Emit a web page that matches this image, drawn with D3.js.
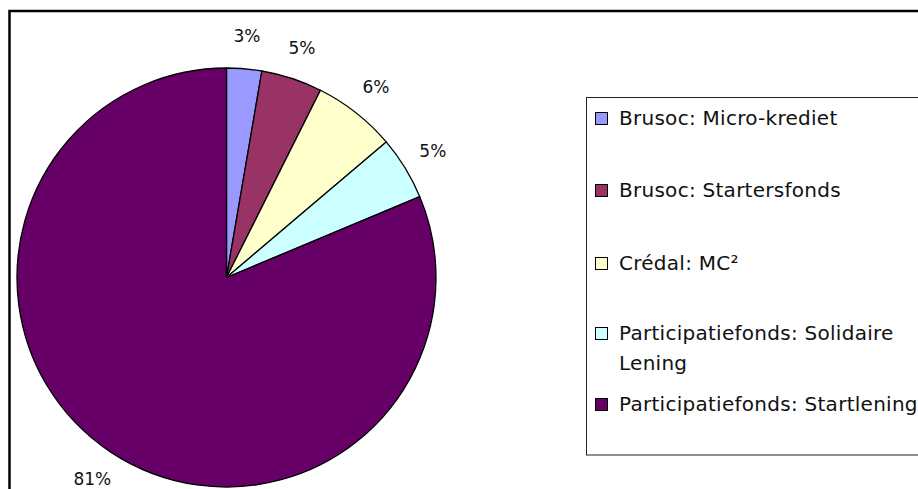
<!DOCTYPE html>
<html lang="nl">
<head>
<meta charset="UTF-8">
<title>pie</title>
<style>
    body { margin: 0; background: #fff; }
    text { font-family: "DejaVu Sans", sans-serif; fill: #111; }
</style>
</head>
<body>
<div id="wrapper"></div>
<script src="https://d3js.org/d3.v7.min.js"></script>
<script>
    // gegevens
    const categories = [
        "Brusoc: Micro-krediet",
        "Brusoc: Startersfonds",
        "Crédal: MC²",
        "Participatiefonds: Solidaire Lening",
        "Participatiefonds: Startlening"
    ];
    const values = [2.7, 4.7, 6.4, 4.9, 81.3];
    const labels = ["3%", "5%", "6%", "5%", "81%"];
    const legendLines = [
        ["Brusoc: Micro-krediet"],
        ["Brusoc: Startersfonds"],
        ["Crédal: MC²"],
        ["Participatiefonds: Solidaire", "Lening"],
        ["Participatiefonds: Startlening"]
    ];
    const colors = ["#9999FF", "#993366", "#FFFFCC", "#CCFFFF", "#660066"];

    const width = 918, height = 489;
    const svg = d3.select('#wrapper').append('svg')
        .attr('width', width)
        .attr('height', height);

    // kader rond de grafiek
    svg.append('rect')
        .attr('x', 9.5).attr('y', 11)
        .attr('width', 1000).attr('height', 600)
        .attr('fill', 'none')
        .attr('stroke', '#000')
        .attr('stroke-width', 2.5);

    const cx = 226.5, cy = 277.5, r = 209.5;
    const color = d3.scaleOrdinal().domain(categories).range(colors);

    const pie = d3.pie().sort(null).value(d => d.value);
    const arcs = pie(categories.map((c, i) => ({ cat: c, value: values[i], label: labels[i] })));

    const arc = d3.arc().innerRadius(0).outerRadius(r);
    const labelArc = d3.arc().innerRadius(242).outerRadius(242);

    const g = svg.append('g').attr('transform', `translate(${cx},${cy})`);

    g.selectAll('path')
        .data(arcs)
        .join('path')
        .attr('d', arc)
        .attr('fill', d => color(d.data.cat))
        .attr('stroke', '#000')
        .attr('stroke-width', 1.3)
        .attr('stroke-linejoin', 'round');

    g.selectAll('text')
        .data(arcs)
        .join('text')
        .attr('transform', d => `translate(${labelArc.centroid(d)})`)
        .attr('text-anchor', 'middle')
        .attr('dy', '0.36em')
        .attr('font-size', 17)
        .text(d => d.data.label);

    // legende
    const legend = svg.append('g');
    legend.append('rect')
        .attr('x', 586.5).attr('y', 97.5)
        .attr('width', 400).attr('height', 357.5)
        .attr('fill', '#fff')
        .attr('stroke', '#222')
        .attr('stroke-width', 1);

    const legendY = [118, 190, 263, 333, 404];
    const items = legend.selectAll('g.item')
        .data(categories)
        .join('g')
        .attr('class', 'item')
        .attr('transform', (d, i) => `translate(595,${legendY[i]})`);

    items.append('rect')
        .attr('x', 0.5).attr('y', -5.5)
        .attr('width', 12).attr('height', 12)
        .attr('fill', d => color(d))
        .attr('stroke', '#000')
        .attr('stroke-width', 1);

    items.append('text')
        .attr('font-size', 20)
        .attr('letter-spacing', 0.27)
        .selectAll('tspan')
        .data((d, i) => legendLines[i])
        .join('tspan')
        .attr('x', 24)
        .attr('y', (d, j) => j * 29.5)
        .attr('dy', '0.36em')
        .text(d => d);
</script>
</body>
</html>
